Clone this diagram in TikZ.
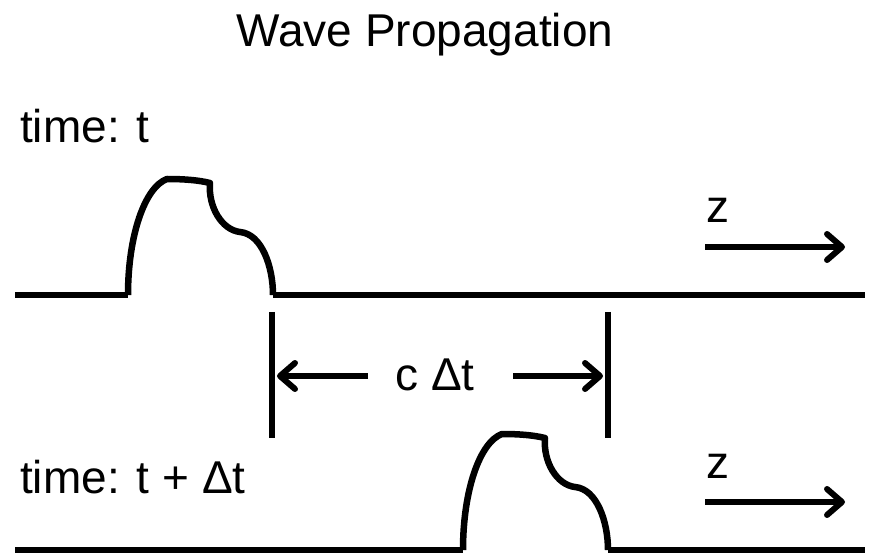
\documentclass[tikz,border=0pt]{standalone}
\usepackage{fontspec}
\setmainfont{Liberation Sans}
\usetikzlibrary{arrows.meta}
\begin{document}
\begin{tikzpicture}[x=1pt,y=-1pt,
  lbl/.style={inner sep=0pt,anchor=base west,font=\fontsize{46}{50}\selectfont},
  wire/.style={line width=6.5pt,line join=round},
  marker/.style={line width=6pt},
  dimarrow/.style={line width=6pt,-{Straight Barb[length=15pt,width=26pt,line width=6pt,round]}},
  pulse/.pic={
    \draw[wire] (0,0) .. controls (0,-60) and (17,-108) .. (39,-116)
      .. controls (55,-116) and (70,-115) .. (82,-112)
      .. controls (80,-88) and (94,-65) .. (112,-63)
      .. controls (134,-61) and (145,-28) .. (145,0);
  }]
\useasboundingbox (0,0) rectangle (870,553);
% title and labels
\node[lbl,anchor=base] (title) at (425,47) {Wave Propagation};
\node[lbl] (t1) at (20,143) {time: t};
\node[lbl] (t2) at (20,493) {time: t + Δt};
\node[lbl] (z1) at (706,223) {z};
\node[lbl] (z2) at (706,478) {z};
\node[lbl,anchor=base] (cdt) at (435,390) {c Δt};
% top wave
\draw[wire] (15,295) -- (128,295);
\pic at (128,295) {pulse};
\draw[wire] (273,295) -- (865,295);
% bottom wave
\draw[wire] (15,550) -- (463,550);
\pic at (463,550) {pulse};
\draw[wire] (608,550) -- (865,550);
% markers
\coordinate (m1a) at (272,312); \coordinate (m1b) at (272,438);
\coordinate (m2a) at (608,312); \coordinate (m2b) at (608,438);
\draw[marker] (m1a) -- (m1b);
\draw[marker] (m2a) -- (m2b);
\coordinate (la) at (368,376); \coordinate (lb) at (277,376);
\coordinate (ra) at (513,376); \coordinate (rb) at (603,376);
\draw[dimarrow] (la) -- (lb);
\draw[dimarrow] (ra) -- (rb);
% z arrows
\coordinate (za1) at (705,247); \coordinate (zb1) at (845,247);
\coordinate (za2) at (705,502); \coordinate (zb2) at (845,502);
\draw[dimarrow] (za1) -- (zb1);
\draw[dimarrow] (za2) -- (zb2);
\end{tikzpicture}
\end{document}
